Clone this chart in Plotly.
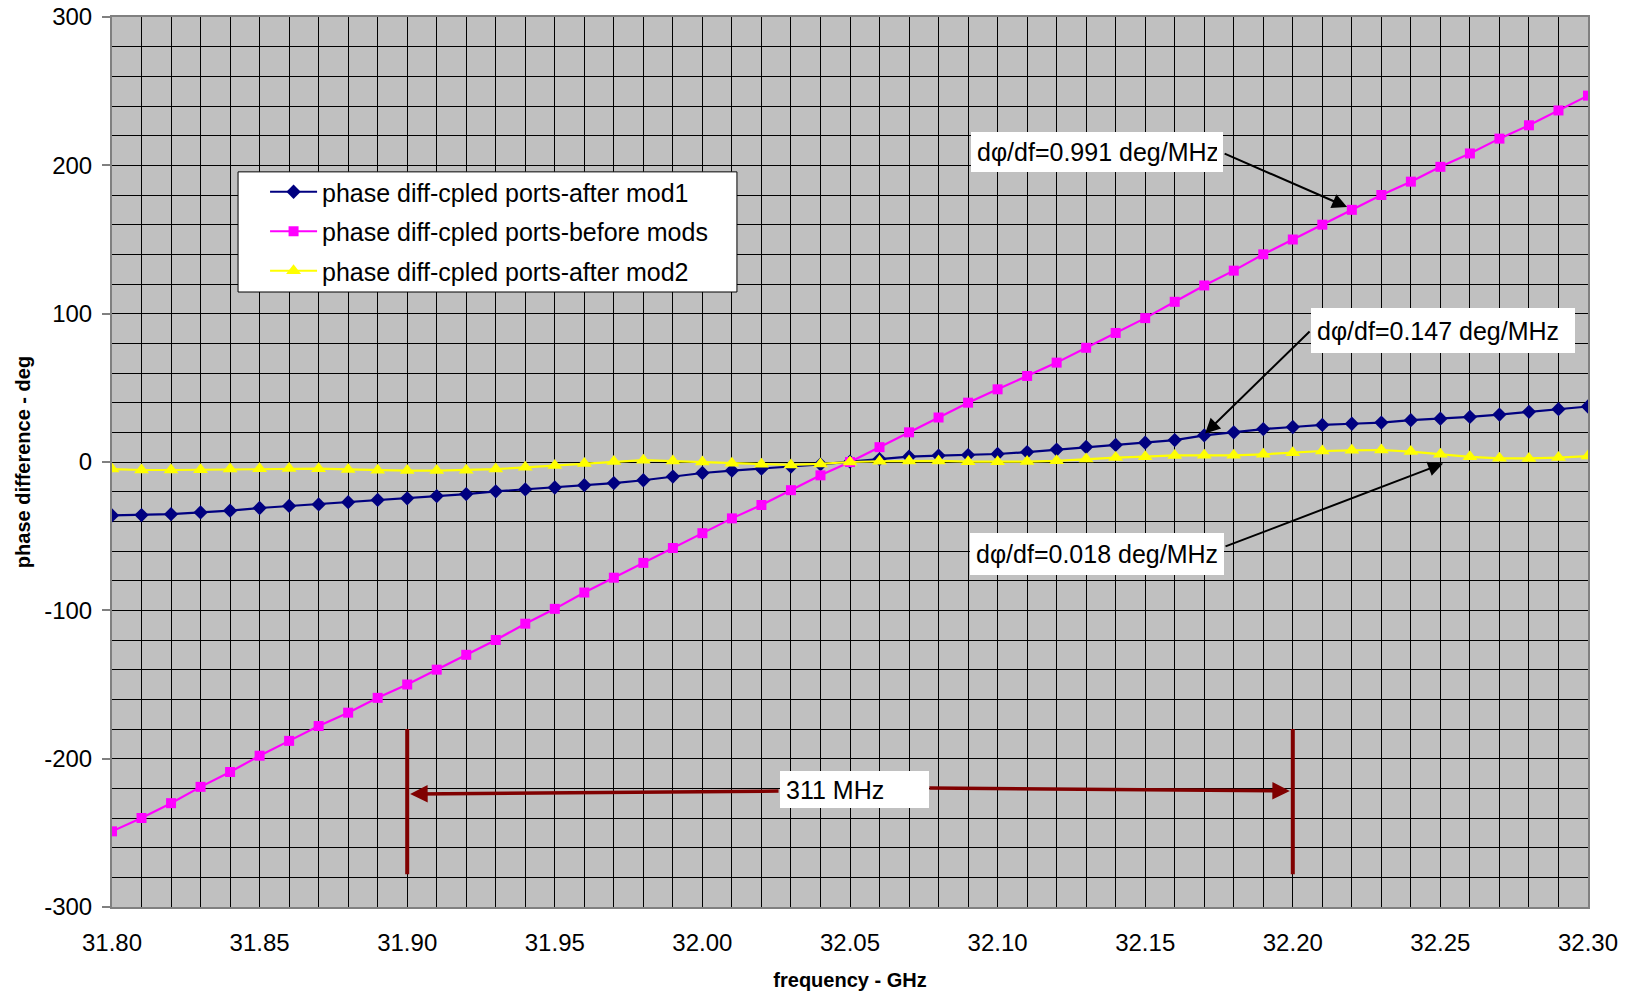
import plotly.graph_objects as go

# ---------------- data ----------------
freq_ghz = [31.80, 31.81, 31.82, 31.83, 31.84, 31.85, 31.86, 31.87, 31.88, 31.89,
            31.90, 31.91, 31.92, 31.93, 31.94, 31.95, 31.96, 31.97, 31.98, 31.99,
            32.00, 32.01, 32.02, 32.03, 32.04, 32.05, 32.06, 32.07, 32.08, 32.09,
            32.10, 32.11, 32.12, 32.13, 32.14, 32.15, 32.16, 32.17, 32.18, 32.19,
            32.20, 32.21, 32.22, 32.23, 32.24, 32.25, 32.26, 32.27, 32.28, 32.29,
            32.30]

after_mod1 = [-36.0, -35.8, -35.2, -34.0, -32.8, -31.0, -29.6, -28.6, -27.1, -25.6,
              -24.5, -23.0, -21.6, -19.8, -18.5, -17.2, -15.6, -14.2, -12.3, -9.8,
              -7.4, -5.8, -4.5, -3.1, -1.6, 0.2, 2.0, 3.6, 4.3, 4.7,
              5.4, 6.7, 8.4, 10.1, 11.5, 13.0, 14.8, 18.0, 20.0, 22.2,
              23.6, 25.0, 25.8, 26.6, 28.2, 29.2, 30.4, 32.0, 33.8, 35.6,
              37.4]

before_mods = [-249, -240, -230, -219, -209, -198, -188, -178, -169, -159,
               -150, -140, -130, -120, -109, -99, -88, -78, -68, -58,
               -48, -38, -29, -19, -9, 0, 10, 20, 30, 40,
               49, 58, 67, 77, 87, 97, 108, 119, 129, 140,
               150, 160, 170, 180, 189, 199, 208, 218, 227, 237,
               247]

after_mod2 = [-4.8, -5.4, -5.4, -5.2, -4.7, -4.5, -4.4, -4.5, -5.0, -5.6,
              -5.8, -5.8, -5.5, -4.8, -3.6, -2.4, -1.0, 0.3, 1.2, 0.6,
              0.0, -0.8, -1.5, -2.0, -1.3, 0.0, 0.5, 0.7, 0.7, 0.2,
              0.1, 0.3, 0.8, 2.0, 3.0, 3.6, 4.4, 4.5, 4.5, 5.2,
              6.3, 7.4, 7.9, 8.1, 7.0, 5.2, 3.5, 2.5, 2.4, 3.0,
              4.0]

series_names = ["phase diff-cpled ports-after mod1",
                "phase diff-cpled ports-before mods",
                "phase diff-cpled ports-after mod2"]

slope_labels = ["dφ/df=0.991 deg/MHz", "dφ/df=0.147 deg/MHz", "dφ/df=0.018 deg/MHz"]
span_label = "311 MHz"
span_start, span_end = 31.90, 32.20

FONT = "Arial, Liberation Sans, sans-serif"

fig = go.Figure()
fig.add_trace(go.Scatter(x=freq_ghz, y=after_mod1, name=series_names[0], mode="lines+markers",
                         line=dict(color="#000080", width=2.2),
                         marker=dict(symbol="diamond", size=11, color="#000080"),
                         legendgroup="a"))
fig.add_trace(go.Scatter(x=freq_ghz, y=before_mods, name=series_names[1], mode="lines+markers",
                         line=dict(color="#FF00FF", width=2.2),
                         marker=dict(symbol="square", size=10, color="#FF00FF"),
                         legendgroup="b"))
fig.add_trace(go.Scatter(x=freq_ghz, y=after_mod2, name=series_names[2], mode="lines+markers",
                         line=dict(color="#FFFF00", width=2.2),
                         marker=dict(symbol="triangle-up", size=13, color="#FFFF00"),
                         legendgroup="c"))

# legend box (white with black border)
fig.add_shape(type="rect", xref="paper", yref="paper",
              x0=0.0854, x1=0.4234, y0=0.691, y1=0.826,
              fillcolor="white", line=dict(color="black", width=1), layer="above")

# span bars
for xv in (span_start, span_end):
    fig.add_shape(type="line", xref="x", yref="y", x0=xv, x1=xv, y0=-180, y1=-278,
                  line=dict(color="#800000", width=4), layer="above")

annotations = []
# black arrows (arrow only)
black_arrows = [((32.1764, 208.3), (32.2184, 171.9)),
                ((32.2062, 89.0), (32.1703, 19.2)),
                ((32.1767, -57.3), (32.2509, -1.0))]
for (sx, sy), (tx, ty) in black_arrows:
    annotations.append(dict(x=tx, y=ty, ax=sx, ay=sy, xref="x", yref="y", axref="x", ayref="y",
                            text="", showarrow=True, arrowhead=2, arrowsize=1.5, arrowwidth=2,
                            arrowcolor="black", standoff=0))
# red span arrows
red_arrows = [((32.0263, -221.8), (31.901, -223.8)),
              ((32.0764, -219.8), (32.199, -221.8))]
for (sx, sy), (tx, ty) in red_arrows:
    annotations.append(dict(x=tx, y=ty, ax=sx, ay=sy, xref="x", yref="y", axref="x", ayref="y",
                            text="", showarrow=True, arrowhead=2, arrowsize=1.0, arrowwidth=3.5,
                            arrowcolor="#800000", standoff=0))
# text boxes
boxes = [(slope_labels[0], 32.1337, 209.0, 252, 40),
         (slope_labels[1], 32.2509, 88.65, 264, 45),
         (slope_labels[2], 32.1337, -62.0, 254, 42),
         (span_label, 32.0515, -220.8, 149, 37)]
for txt, bx, by, w, h in boxes:
    annotations.append(dict(x=bx, y=by, xref="x", yref="y", text=txt, showarrow=False,
                            xanchor="center", yanchor="middle", align="left",
                            width=w - 12, height=h - 12, borderpad=6, borderwidth=0,
                            bgcolor="white", font=dict(family=FONT, size=25, color="black")))

fig.update_layout(
    width=1630, height=993, autosize=False,
    margin=dict(l=112, r=42, t=17, b=86, pad=0),
    paper_bgcolor="white", plot_bgcolor="#C0C0C0",
    font=dict(family=FONT, color="black"),
    showlegend=True,
    legend=dict(x=0.1037, y=0.8292, xanchor="left", yanchor="top",
                bgcolor="rgba(0,0,0,0)", borderwidth=0, itemwidth=47,
                font=dict(family=FONT, size=25, color="black"),
                tracegroupgap=4, traceorder="grouped"),
    annotations=annotations,
    xaxis=dict(range=[31.80, 32.30], tickmode="linear", tick0=31.80, dtick=0.05, tickformat=".2f",
               showgrid=True, gridcolor="black", gridwidth=1,
               minor=dict(tickmode="linear", tick0=31.80, dtick=0.01, showgrid=True,
                          gridcolor="black", gridwidth=1, ticks=""),
               ticks="", tickfont=dict(family=FONT, size=24, color="black"),
               showline=True, linecolor="#808080", linewidth=2, mirror=True,
               zeroline=False, ticklabelstandoff=13, automargin=False,
               title=dict(text="<b>frequency - GHz</b>", font=dict(family=FONT, size=20, color="black"),
                          standoff=18)),
    yaxis=dict(range=[-300, 300], tickmode="linear", tick0=-300, dtick=100,
               labelalias={"\u2212300": "-300", "\u2212200": "-200", "\u2212100": "-100"},
               showgrid=True, gridcolor="black", gridwidth=1,
               minor=dict(tickmode="linear", tick0=-300, dtick=20, showgrid=True,
                          gridcolor="black", gridwidth=1, ticks=""),
               ticks="outside", ticklen=8, tickwidth=2, tickcolor="#808080",
               tickfont=dict(family=FONT, size=24, color="black"),
               showline=True, linecolor="#808080", linewidth=2, mirror=True,
               zeroline=False, ticklabelstandoff=5, automargin=False,
               title=dict(text="<b>phase difference - deg</b>", font=dict(family=FONT, size=20, color="black"),
                          standoff=8)),
)

fig.write_html("out.html", config={"displayModeBar": False},
               post_script="document.body.style.margin='0px';document.body.style.overflow='hidden';")
